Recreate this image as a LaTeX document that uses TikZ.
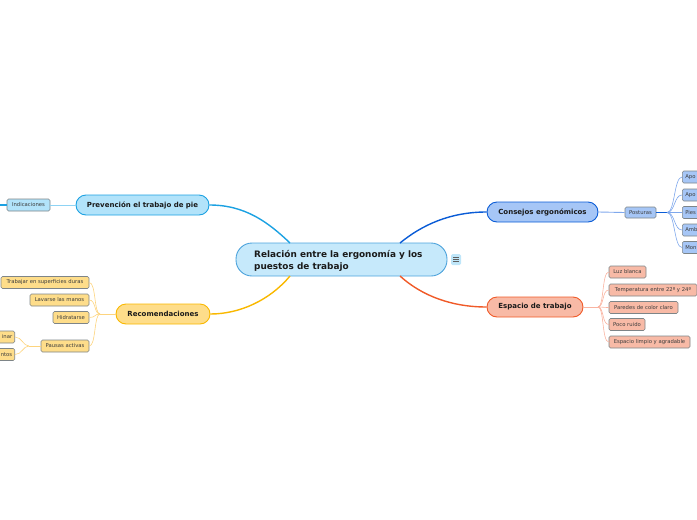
\documentclass[tikz,border=0pt]{standalone}
\usepackage{fontspec}
\setmainfont{DejaVu Sans}
\usetikzlibrary{calc}
\definecolor{cfill}{HTML}{C6E9FB}
\definecolor{cdraw}{HTML}{4DA3DC}
\definecolor{pfill}{HTML}{B2E3FA}
\definecolor{pdraw}{HTML}{1BA1E2}
\definecolor{bfill}{HTML}{A6C6F6}
\definecolor{bdraw}{HTML}{0A5CD6}
\definecolor{bthin}{HTML}{7FA8EC}
\definecolor{efill}{HTML}{F8BAA6}
\definecolor{edraw}{HTML}{F05A28}
\definecolor{ethin}{HTML}{F9B3A0}
\definecolor{rfill}{HTML}{FEDD8A}
\definecolor{rdraw}{HTML}{F9B800}
\definecolor{rthin}{HTML}{FDD47E}
\definecolor{pthin}{HTML}{8ED3F4}
\definecolor{leafborder}{HTML}{7E8588}
\definecolor{txt}{HTML}{1A1A1A}
\tikzset{
  mainnode/.style={draw, rounded corners=10pt, line width=0.9pt, inner sep=0pt,
    minimum height=20pt, font=\fontsize{7.0}{8}\selectfont\bfseries, text=txt},
  leaf/.style={draw=leafborder, rounded corners=1.5pt, line width=0.6pt, inner sep=0pt,
    minimum height=12pt, font=\fontsize{5.3}{6}\selectfont, text=txt!85},
  branch/.style={line width=1.4pt},
  twig/.style={line width=0.6pt}
}
\begin{document}
\begin{tikzpicture}[x=1pt,y=-1pt]
\useasboundingbox (0,0) rectangle (697,520);
% central
\node[draw=cdraw, fill=cfill, rounded corners=16pt, line width=0.9pt, minimum width=211pt, minimum height=33pt, inner sep=0pt] (c) at (341.5,259.5) {};
\node[font=\fontsize{8.9}{12}\selectfont\bfseries, text=txt, align=left, anchor=west, inner sep=0pt] (ct) at (254,261) {Relación entre la ergonomía y los\\puestos de trabajo};
% icon
\node[fill=cfill!80!pdraw!70, rounded corners=1.5pt, minimum width=10pt, minimum height=11pt, inner sep=0pt] (icon) at (456,259.5) {};
\foreach \dy in {-2,0,2} \draw[line width=0.6pt, txt!70] ($(icon.center)+(-3,\dy)$) -- ($(icon.center)+(3,\dy)$);
\coordinate (ctl) at (290,243);
\coordinate (ctr) at (400,243);
\coordinate (cbl) at (290,276);
\coordinate (cbr) at (400,276);

% Prevencion
\node[mainnode, draw=pdraw, fill=pfill, minimum width=133pt] (prev) at (142.5,205) {Prevención el trabajo de pie};
\node[leaf, fill=pfill, minimum width=43pt] (ind) at (28.5,205) {Indicaciones};
\coordinate (indout) at (-5,205);
\draw[branch, pdraw] (ctl) .. controls (268,222) and (245,205) .. (prev.east);
\draw[twig, pthin, line width=0.9pt] (prev.west) -- (ind.east);
\draw[pdraw, line width=1.2pt] (ind.west) -- (indout);

% Consejos
\node[mainnode, draw=bdraw, fill=bfill, minimum width=111pt] (cons) at (542.5,212) {Consejos ergonómicos};
\node[leaf, fill=bfill, minimum width=31pt, minimum height=11pt] (post) at (640.5,212.5) {Posturas};
\draw[branch, bdraw] (ctr) .. controls (422,225) and (450,212) .. (cons.west);
\draw[twig, bthin, line width=0.9pt] (cons.east) -- (post.west);
\coordinate (pj) at (667,212.5);
\draw[bdraw, line width=1.2pt] (post.east) -- (pj);
\foreach \n/\y/\t in {p1/177/Apo, p2/195/Apo, p3/212.5/Pies, p4/230/Amb, p5/247.5/Mon}{
  \node[leaf, fill=bfill, anchor=west, minimum width=40pt, text width=34pt, inner xsep=3pt] (\n) at (682,\y) {\t};
  \draw[twig, bthin] (pj) .. controls (675,212.5) and (674,\y) .. (\n.west);
}

% Espacio
\node[mainnode, draw=edraw, fill=efill, minimum width=96pt] (esp) at (535,307) {Espacio de trabajo};
\draw[branch, edraw] (cbr) .. controls (422,296) and (452,307) .. (esp.west);
\coordinate (ej) at (598,307);
\draw[twig, ethin, line width=0.9pt] (esp.east) -- (ej);
\foreach \n/\x/\y/\w/\t in {e1/627.5/272/37/Luz blanca, e2/653/290/88/Temperatura entre 22º y 24º, e3/643.5/307.5/69/Paredes de color claro, e4/627/324.5/36/Poco ruido, e5/649.5/342/81/Espacio limpio y agradable}{
  \node[leaf, fill=efill, minimum width=\w pt] (\n) at (\x,\y) {\t};
  \draw[twig, ethin] (ej) .. controls (604,307) and (602,\y) .. (\n.west);
}

% Recomendaciones
\node[mainnode, draw=rdraw, fill=rfill, minimum width=94pt] (rec) at (163,314) {Recomendaciones};
\draw[branch, rdraw] (cbl) .. controls (270,300) and (240,314) .. (rec.east);
\coordinate (rj) at (100,314);
\draw[twig, rthin, line width=0.9pt] (rec.west) -- (rj);
\foreach \n/\x/\y/\w/\t in {r1/45/282.5/88/Trabajar en superficies duras, r2/59.5/300/59/Lavarse las manos, r3/71/317.5/36/Hidratarse, r4/65/346/48/Pausas activas}{
  \node[leaf, fill=rfill, minimum width=\w pt] (\n) at (\x,\y) {\t};
  \draw[twig, rthin] (rj) .. controls (94,314) and (96,\y) .. (\n.east);
}
\coordinate (qj) at (29,346);
\draw[twig, rthin, line width=0.9pt] (r4.west) -- (qj);
\foreach \n/\y/\t in {q1/337/inar, q2/354.5/ntos}{
  \node[leaf, fill=rfill, anchor=east, minimum width=40pt, text width=35pt, align=right, inner xsep=2.5pt] (\n) at (15,\y) {\t};
  \draw[twig, rthin] (qj) .. controls (23,346) and (22,\y) .. (\n.east);
}
\end{tikzpicture}
\end{document}
